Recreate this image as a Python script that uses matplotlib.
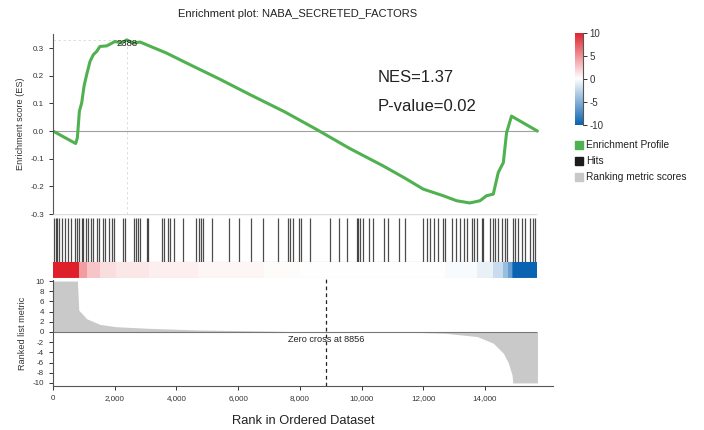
import numpy as np
import matplotlib
matplotlib.use('Agg')
import matplotlib.pyplot as plt
from matplotlib.colors import LinearSegmentedColormap, Normalize
from matplotlib.ticker import FuncFormatter
import matplotlib as mpl

mpl.rcParams.update({'font.family': ['Liberation Sans', 'DejaVu Sans'], 'font.size': 6,
                     'axes.unicode_minus': False})

n_genes = 15700
peak_rank = 2388
zero_cross = 8856
nes = 1.37
pval = 0.02

# running enrichment score
es_rank = [0, 735, 790, 855, 930, 1005, 1090, 1200, 1305, 1415, 1520, 1740, 2010, 2225, 2388,
           2600, 2820, 3035, 3680, 4440, 5400, 6380, 7500, 8540, 9600, 10700, 11400, 12000,
           12650, 13080, 13510, 13840, 14050, 14270, 14430, 14595, 14700, 14860, 15700]
es_val = [0.0, -0.045, -0.024, 0.072, 0.102, 0.162, 0.204, 0.252, 0.276, 0.288, 0.306, 0.308,
          0.324, 0.318, 0.330, 0.318, 0.322, 0.312, 0.282, 0.240, 0.188, 0.132, 0.070, 0.006,
          -0.062, -0.126, -0.170, -0.210, -0.234, -0.252, -0.260, -0.252, -0.234, -0.228,
          -0.150, -0.114, -0.006, 0.054, 0.0]

# positions of the gene set members in the ranked list
hits = [32, 97, 140, 205, 280, 390, 500, 570, 713, 770, 855, 930, 985, 1070, 1145, 1220, 1305,
        1415, 1500, 1630, 1685, 1825, 1900, 1975, 2260, 2330, 2625, 2690, 2765, 2820, 3035, 3090,
        3520, 3595, 3735, 3790, 3920, 4200, 4650, 4730, 4785, 4850, 5140, 5715, 6040, 6410, 6815,
        7300, 7625, 7680, 7790, 7980, 8025, 8330, 8975, 9280, 9540, 9840, 9895, 9950, 10035,
        10250, 10380, 10730, 10865, 11220, 11410, 12000, 12110, 12215, 12345, 12485, 12650,
        12700, 12920, 13060, 13190, 13320, 13425, 13570, 13645, 13730, 13895, 13945, 14160,
        14250, 14320, 14430, 14540, 14650, 14700, 14895, 14970, 15075, 15185, 15295, 15455,
        15565, 15620]

# ranked list metric
metric_rank = [0, 790, 835, 1090, 1520, 2040, 3100, 4700, 6850, 8000, 9500, 11670, 12720,
               13750, 14270, 14600, 14760, 14880, 14900, 15700]
metric_val = [10, 10, 4.3, 2.6, 1.5, 1.04, 0.72, 0.4, 0.2, 0.06, 0.0, -0.05, -0.26, -0.9, -2.2,
              -4.2, -6.1, -8.5, -10, -10]

cbar_ticks = [10, 5, 0, -5, -10]
rank_ticks = [0, 2000, 4000, 6000, 8000, 10000, 12000, 14000]
metric_ticks = [10, 8, 6, 4, 2, 0, -2, -4, -6, -8, -10]
es_ticks = [0.3, 0.2, 0.1, 0.0, -0.1, -0.2, -0.3]

green = '#4fb14f'
axc = '#555555'
xmax = 16200
left, width = 0.0753, 0.710

cmap = LinearSegmentedColormap.from_list('rwb', ['#0a63b2', '#ffffff', '#df1f2a'])
norm = Normalize(-10, 10)

fig = plt.figure(figsize=(7.04, 4.30), dpi=100)
ax_es = fig.add_axes([left, 0.5023, width, 0.4186])
ax_hit = fig.add_axes([left, 0.3907, width, 0.1116])
ax_band = fig.add_axes([left, 0.3535, width, 0.0372])
ax_rk = fig.add_axes([left, 0.1023, width, 0.2465])

for ax in (ax_es, ax_hit, ax_band, ax_rk):
    ax.set_xlim(0, xmax)
    for s in ('top', 'right'):
        ax.spines[s].set_visible(False)
    ax.tick_params(colors='#333333', labelsize=5.8, length=3, width=0.7)
    ax.spines['left'].set_color(axc)
    ax.spines['bottom'].set_color(axc)

# enrichment profile
ax_es.set_ylim(-0.3, 0.351)
ax_es.spines['bottom'].set_visible(False)
ax_es.set_xticks([])
ax_es.set_yticks(es_ticks)
ax_es.yaxis.set_major_formatter(FuncFormatter(lambda v, p: f'{v:.1f}'))
ax_es.hlines(0, 0, n_genes, color='#a0a0a0', lw=0.8)
ax_es.plot([peak_rank, peak_rank], [-0.3, max(es_val)], color='#d8d8d8', lw=0.6, ls=(0, (3, 3)))
ax_es.plot([0, peak_rank], [max(es_val), max(es_val)], color='#d8d8d8', lw=0.6, ls=(0, (3, 3)))
ax_es.plot(es_rank, es_val, color=green, lw=2.2, solid_capstyle='round', solid_joinstyle='round')
ax_es.text(peak_rank, 0.318, str(peak_rank), ha='center', va='center', fontsize=6.8, color='#222222')
ax_es.text(0.65, 0.76, f'NES={nes}', transform=ax_es.transAxes, fontsize=12, color='#222222', va='center')
ax_es.text(0.65, 0.60, f'P-value={pval}', transform=ax_es.transAxes, fontsize=12, color='#222222', va='center')
ax_es.set_ylabel('Enrichment score (ES)', fontsize=6.6, color='#333333', labelpad=4)

# hits
ax_hit.set_ylim(0, 1)
ax_hit.axis('off')
ax_hit.vlines(hits, 0, 0.92, color='black', lw=0.9, alpha=0.7)
ax_hit.hlines(1, 0, n_genes, color='#dddddd', lw=1.0)
ax_hit.hlines(0, 0, n_genes, color='#777777', lw=0.8)

# colour band of the ranked metric
ax_band.axis('off')
ax_band.set_ylim(0, 1)
edges = np.array(metric_rank, dtype=float)
vals = np.array(metric_val[:-1], dtype=float)
ax_band.pcolormesh(edges, [0, 1], vals[None, :], cmap=cmap, norm=norm, shading='flat')
ax_band.hlines(0, 0, n_genes, color='#dddddd', lw=0.8)

# ranked list metric
ax_rk.set_ylim(-10.6, 10.2)
ax_rk.set_yticks(metric_ticks)
ax_rk.set_xticks(rank_ticks)
ax_rk.xaxis.set_major_formatter(FuncFormatter(lambda v, p: f'{int(v):,}'))
ax_rk.fill_between(metric_rank, 0, metric_val, color='#c9c9c9', lw=0)
ax_rk.hlines(0, 0, n_genes, color='#777777', lw=0.8)
ax_rk.vlines(zero_cross, -10.6, 10.6, color='#222222', lw=0.9, ls=(0, (3, 2.5)), clip_on=False)
ax_rk.text(zero_cross, -1.5, f'Zero cross at {zero_cross}', ha='center', va='center',
           fontsize=6.6, color='#222222')
ax_rk.set_ylabel('Ranked list metric', fontsize=6.6, color='#333333', labelpad=4)
ax_rk.set_xlabel('Rank in Ordered Dataset', fontsize=9.3, color='#222222', labelpad=9)

fig.text(0.423, 0.967, 'Enrichment plot: NABA_SECRETED_FACTORS', ha='center', va='center',
         fontsize=8, color='#222222')

# colour scale
cax = fig.add_axes([0.8168, 0.7093, 0.0114, 0.214])
grad = np.linspace(-10, 10, 256)[:, None]
cax.imshow(grad, aspect='auto', cmap=cmap, norm=norm, origin='lower', extent=[0, 1, -10, 10])
cax.set_xticks([])
cax.yaxis.tick_right()
cax.set_yticks(cbar_ticks)
cax.tick_params(labelsize=7, length=3, width=0.7, colors='#333333', pad=1.5)
for s in ('top', 'left', 'bottom'):
    cax.spines[s].set_visible(False)
cax.spines['right'].set_color(axc)

# legend
legend_items = [('Enrichment Profile', green), ('Hits', '#1c1c1c'), ('Ranking metric scores', '#c8c8c8')]
for i, (label, col) in enumerate(legend_items):
    yc = 1 - (145 + 16 * i) / 430
    fig.patches.append(plt.Rectangle((575 / 704, yc - 4 / 430), 8 / 704, 8 / 430,
                                     transform=fig.transFigure, color=col))
    fig.text(586 / 704, yc, label, fontsize=7.3, va='center', color='#222222')

plt.savefig('out.png', dpi=100)
